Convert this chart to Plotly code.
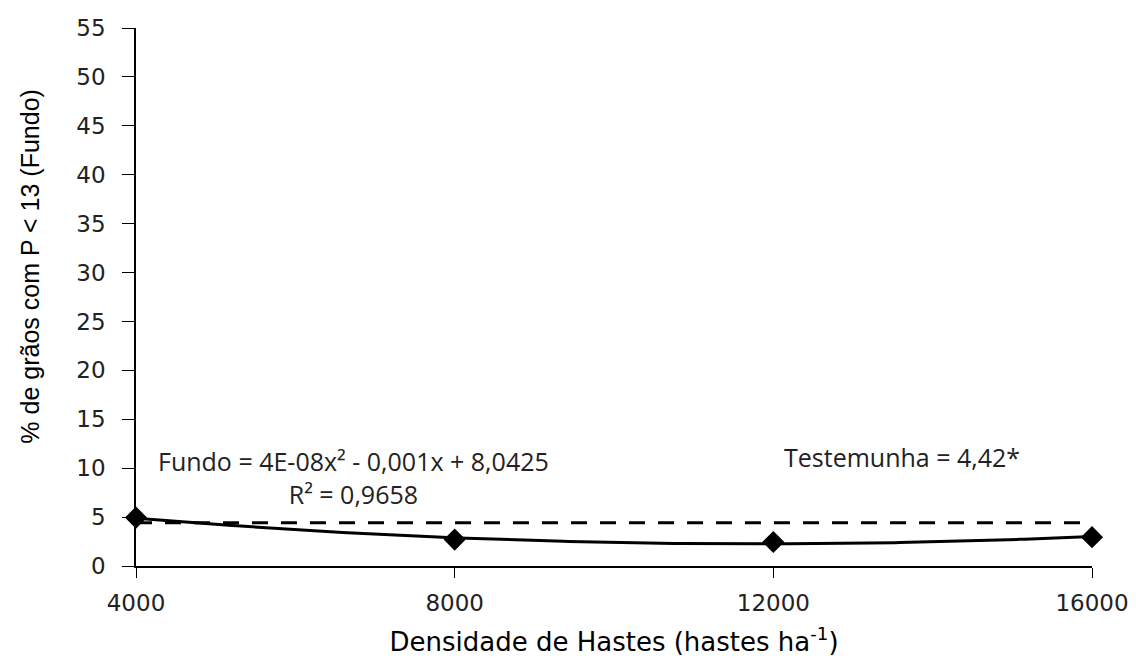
import numpy as np
import plotly.graph_objects as go

# Stem density (hastes/ha) and % of grains with P < 13 (bottom sieve)
densidade = [4000, 8000, 12000, 16000]
fundo = [4.95, 2.7, 2.45, 2.95]
testemunha = 4.42

y_ticks = list(range(0, 56, 5))
x_ticks = [4000, 8000, 12000, 16000]

# quadratic trend line through the observed values
coef = np.polyfit(densidade, fundo, 2)
xs = np.linspace(min(densidade), max(densidade), 200)
ys = np.polyval(coef, xs)

fig = go.Figure()

# control (testemunha) reference level
fig.add_trace(go.Scatter(
    x=[min(densidade), max(densidade) - 130], y=[testemunha, testemunha],
    mode="lines", line=dict(color="black", width=3, dash="16px,13px"),
    showlegend=False, hoverinfo="skip"))

fig.add_trace(go.Scatter(
    x=xs, y=ys, mode="lines", line=dict(color="black", width=3),
    showlegend=False, hoverinfo="skip"))

fig.add_trace(go.Scatter(
    x=densidade, y=fundo, mode="markers",
    marker=dict(symbol="diamond", size=17, color="black"),
    showlegend=False, cliponaxis=False))

note_font = dict(family="Open Sans", size=25, color="#222")

fig.add_annotation(
    x=0.228, y=9.0, xref="paper", yref="y", xanchor="center", yanchor="middle",
    text="Fundo = 4E-08x² - 0,001x + 8,0425<br>R² = 0,9658",
    showarrow=False, align="center", font=note_font)

fig.add_annotation(
    x=0.801, y=11.1, xref="paper", yref="y", xanchor="center", yanchor="middle",
    text="Testemunha = 4,42*", showarrow=False, font=note_font)

# y-axis title, placed slightly above the axis midpoint
fig.add_annotation(
    x=0, y=30.6, xref="paper", yref="y", xanchor="center", yanchor="middle",
    xshift=-106, textangle=-90, showarrow=False,
    text="% de grãos com P < 13 (Fundo)",
    font=dict(family="Liberation Sans", size=25, color="black"))

fig.update_layout(
    width=1136, height=658,
    margin=dict(l=136, r=44, t=28, b=92),
    paper_bgcolor="white", plot_bgcolor="white",
    xaxis=dict(
        range=[4000, 16000], tickvals=x_ticks, ticktext=[str(v) for v in x_ticks],
        showgrid=False, zeroline=False, showline=True, linecolor="black", linewidth=1.5,
        ticks="outside", ticklen=10, tickcolor="black", ticklabelstandoff=6,
        automargin=False,
        tickfont=dict(family="DejaVu Sans", size=23, color="#222"),
        title=dict(text="Densidade de Hastes (hastes ha<sup>-1</sup>)",
                   font=dict(family="DejaVu Sans", size=26, color="black"),
                   standoff=17)),
    yaxis=dict(
        range=[0, 55], tickvals=y_ticks,
        showgrid=False, zeroline=False, showline=True, linecolor="black", linewidth=1.5,
        ticks="outside", ticklen=12, tickcolor="black", ticklabelstandoff=12,
        automargin=False,
        tickfont=dict(family="DejaVu Sans", size=23, color="#222")),
)

fig.write_html("out.html")
